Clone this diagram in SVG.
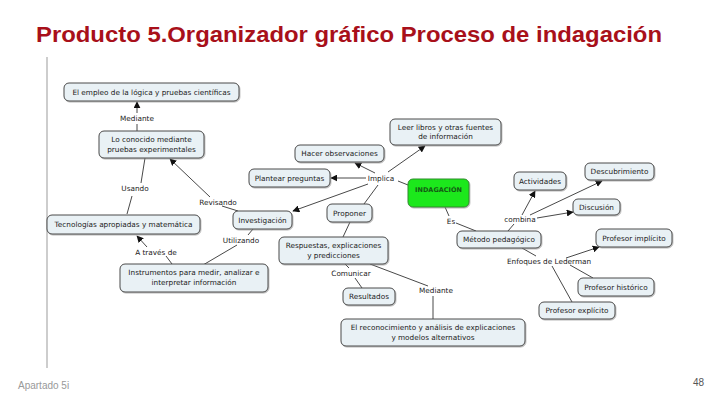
<svg xmlns="http://www.w3.org/2000/svg" width="720" height="405" viewBox="0 0 720 405">
<defs>
<marker id="ah" viewBox="0 0 10 10" refX="9" refY="5" markerWidth="7" markerHeight="7" markerUnits="userSpaceOnUse" orient="auto"><path d="M0,0 L10,5 L0,10 z" fill="#111"/></marker>
<filter id="sh" x="-10%" y="-10%" width="120%" height="130%"><feDropShadow dx="0.8" dy="1" stdDeviation="0.6" flood-color="#888" flood-opacity="0.6"/></filter>
</defs>
<style>
.n rect{fill:#e9f1f5;stroke:#4a4a4a;stroke-width:1;filter:url(#sh)}
.n text,.l{font-family:"DejaVu Sans",Verdana,sans-serif;font-size:7.3px;fill:#222;text-anchor:middle}
.c line,.c path{stroke:#333;stroke-width:0.9;fill:none}
.a{marker-end:url(#ah)}
</style>
<rect width="720" height="405" fill="#fff"/>
<text x="36" y="42" font-family="Liberation Sans,Arial,sans-serif" font-weight="bold" font-size="22" fill="#a8101a" textLength="626" lengthAdjust="spacingAndGlyphs">Producto 5.Organizador gráfico Proceso de indagación</text>
<line x1="47" y1="57" x2="47" y2="368" stroke="#bdbdbd" stroke-width="1.5"/>
<g class="c">
<line x1="137" y1="131" x2="137" y2="124"/>
<line class="a" x1="137" y1="113" x2="137" y2="102"/>
<line x1="127" y1="214" x2="132" y2="196"/>
<line x1="141" y1="183" x2="145" y2="158"/>
<line x1="238" y1="211" x2="222" y2="206"/>
<line class="a" x1="210" y1="197" x2="170" y2="159"/>
<line x1="253" y1="229" x2="248" y2="235"/>
<line x1="237" y1="245" x2="203" y2="265"/>
<line x1="172" y1="264" x2="166" y2="256"/>
<line class="a" x1="147" y1="247" x2="137" y2="236"/>
<line x1="408" y1="185" x2="398" y2="181"/>
<line class="a" x1="366" y1="178" x2="331" y2="178"/>
<line class="a" x1="375" y1="173" x2="355" y2="163"/>
<line class="a" x1="388" y1="172" x2="425" y2="146"/>
<line class="a" x1="368" y1="184" x2="293" y2="211"/>
<line x1="378" y1="185" x2="364" y2="204"/>
<line x1="350" y1="222" x2="343" y2="237"/>
<line x1="345" y1="264" x2="349" y2="268"/>
<line x1="355" y1="278" x2="362" y2="288"/>
<line x1="370" y1="264" x2="428" y2="286"/>
<line x1="433" y1="296" x2="433" y2="319"/>
<line x1="445" y1="207" x2="449" y2="216"/>
<line x1="456" y1="223" x2="476" y2="231"/>
<line x1="508" y1="231" x2="514" y2="224"/>
<line class="a" x1="522" y1="215" x2="535" y2="191"/>
<line class="a" x1="530" y1="215" x2="602" y2="181"/>
<line class="a" x1="537" y1="218" x2="573" y2="212"/>
<line x1="522" y1="248" x2="536" y2="256"/>
<line class="a" x1="566" y1="258" x2="599" y2="247"/>
<line x1="570" y1="265" x2="593" y2="278"/>
<line x1="552" y1="266" x2="572" y2="302"/>
</g>
<g id="n1" class="n"><rect x="64" y="83" width="175" height="18" rx="5"/><text x="151.5" y="94.5">El empleo de la lógica y pruebas científicas</text></g>
<g id="n2" class="n"><rect x="99" y="131" width="105" height="27" rx="5"/><text x="151.5" y="142">Lo conocido mediante</text><text x="151.5" y="151.5">pruebas experimentales</text></g>
<g id="n3" class="n"><rect x="47" y="215" width="153" height="19" rx="5"/><text x="123.5" y="227">Tecnologías apropiadas y matemática</text></g>
<g id="n4" class="n"><rect x="120" y="264" width="148" height="28" rx="5"/><text x="194" y="275">Instrumentos para medir, analizar e</text><text x="194" y="285">interpretar información</text></g>
<g id="n5" class="n"><rect x="233" y="211" width="59" height="18" rx="5"/><text x="262.5" y="222.5">Investigación</text></g>
<g id="n6" class="n"><rect x="249" y="169" width="81" height="18" rx="5"/><text x="289.5" y="180.5">Plantear preguntas</text></g>
<g id="n7" class="n"><rect x="295" y="145" width="89" height="17" rx="5"/><text x="339.5" y="156">Hacer observaciones</text></g>
<g id="n8" class="n"><rect x="390" y="119" width="111" height="26" rx="5"/><text x="445.5" y="129.5">Leer libros y otras fuentes</text><text x="445.5" y="139">de información</text></g>
<g id="n9"><rect x="408" y="179" width="61" height="28" rx="5" fill="#1ee81a" stroke="#2e8b2e" stroke-width="1" filter="url(#sh)"/><text x="438.5" y="192" font-family="DejaVu Sans,Verdana,sans-serif" font-size="6.5" font-weight="bold" fill="#145a14" text-anchor="middle">INDAGACIÓN</text></g>
<g id="n10" class="n"><rect x="327" y="204" width="45" height="18" rx="5"/><text x="349.5" y="215.5">Proponer</text></g>
<g id="n11" class="n"><rect x="279" y="237" width="109" height="27" rx="5"/><text x="333.5" y="248">Respuestas, explicaciones</text><text x="333.5" y="258">y predicciones</text></g>
<g id="n12" class="n"><rect x="343" y="288" width="52" height="17" rx="5"/><text x="369" y="299">Resultados</text></g>
<g id="n13" class="n"><rect x="341" y="319" width="184" height="27" rx="5"/><text x="433" y="330">El reconocimiento y análisis de explicaciones</text><text x="433" y="340">y modelos alternativos</text></g>
<g id="n14" class="n"><rect x="457" y="231" width="84" height="17" rx="5"/><text x="499" y="242">Método pedagógico</text></g>
<g id="n15" class="n"><rect x="514" y="172" width="52" height="18" rx="5"/><text x="540" y="183.5">Actividades</text></g>
<g id="n16" class="n"><rect x="585" y="163" width="69" height="17" rx="5"/><text x="619.5" y="174">Descubrimiento</text></g>
<g id="n17" class="n"><rect x="573" y="199" width="47" height="16" rx="5"/><text x="596.5" y="209.5">Discusión</text></g>
<g id="n18" class="n"><rect x="596" y="229" width="76" height="18" rx="5"/><text x="634" y="240.5">Profesor implícito</text></g>
<g id="n19" class="n"><rect x="578" y="278" width="76" height="18" rx="5"/><text x="616" y="289.5">Profesor histórico</text></g>
<g id="n20" class="n"><rect x="539" y="302" width="76" height="17" rx="5"/><text x="577" y="313">Profesor explícito</text></g>
<g id="labels">
<text class="l" x="137" y="121">Mediante</text>
<text class="l" x="135" y="191">Usando</text>
<text class="l" x="218" y="205">Revisando</text>
<text class="l" x="241" y="243">Utilizando</text>
<text class="l" x="156" y="255">A través de</text>
<text class="l" x="381" y="181">Implica</text>
<text class="l" x="451" y="224">Es</text>
<text class="l" x="520" y="222">combina</text>
<text class="l" x="549" y="264">Enfoques de Lederman</text>
<text class="l" x="351" y="276">Comunicar</text>
<text class="l" x="436" y="293">Mediante</text>
</g>
<text x="18" y="389" font-family="Liberation Sans,Arial,sans-serif" font-size="10" fill="#999">Apartado 5i</text>
<text x="704" y="386" font-family="Liberation Sans,Arial,sans-serif" font-size="10" fill="#555" text-anchor="end">48</text>
</svg>
